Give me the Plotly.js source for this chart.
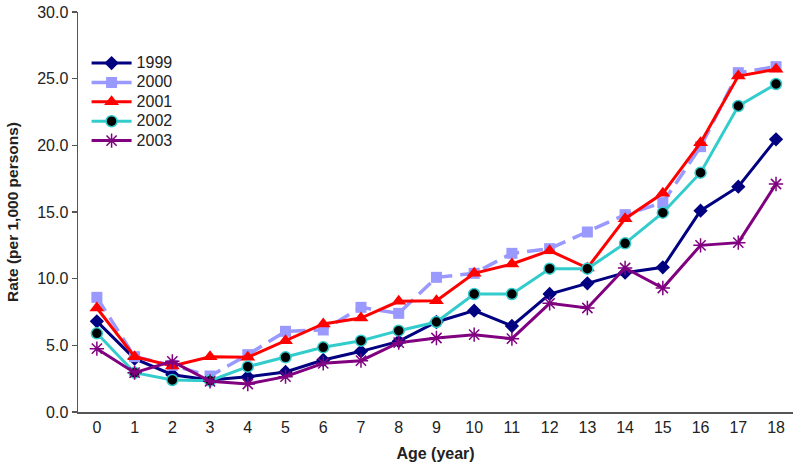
<!DOCTYPE html>
<html>
<head>
<meta charset="utf-8">
<script src="https://cdn.plot.ly/plotly-3.0.1.min.js"></script>
<style>html,body{margin:0;padding:0;background:#fff;}#chart{width:800px;height:468px;}</style>
</head>
<body>
<div id="chart"></div>
<script>
const ages = [0,1,2,3,4,5,6,7,8,9,10,11,12,13,14,15,16,17,18];
const y1999 = [6.8,4.0,2.8,2.4,2.65,3.0,3.9,4.55,5.3,6.75,7.6,6.45,8.85,9.65,10.45,10.85,15.1,16.9,20.45];
const y2000 = [8.6,4.15,3.5,2.7,4.3,6.05,6.15,7.85,7.4,10.1,10.4,11.9,12.25,13.5,14.8,15.7,19.9,25.45,25.9];
const y2001 = [7.8,4.15,3.45,4.15,4.1,5.35,6.6,7.05,8.3,8.35,10.4,11.1,12.1,10.8,14.5,16.4,20.2,25.2,25.7];
const y2002 = [5.9,2.95,2.4,2.35,3.4,4.1,4.85,5.35,6.1,6.75,8.85,8.85,10.75,10.75,12.65,14.95,17.95,22.95,24.6];
const y2003 = [4.75,2.95,3.8,2.3,2.1,2.65,3.65,3.85,5.2,5.55,5.8,5.5,8.15,7.8,10.8,9.3,12.5,12.7,17.1];
const seriesNames = ['1999','2000','2001','2002','2003'];

const legendLabel = s => '<span style="font-size:16px">' + s + '</span>';

const traces = [
  {x: ages, y: y1999, name: legendLabel(seriesNames[0]), mode: 'lines+markers',
   line: {color: '#000080', width: 3},
   marker: {symbol: 'diamond', size: 11, color: '#000080'}},
  {x: ages, y: y2000, name: legendLabel(seriesNames[1]), mode: 'lines+markers',
   line: {color: '#9999FF', width: 3.5, dash: '16px,8px'},
   marker: {symbol: 'square', size: 11, color: '#9999FF'}},
  {x: ages, y: y2001, name: legendLabel(seriesNames[2]), mode: 'lines+markers',
   line: {color: '#FF0000', width: 3},
   marker: {symbol: 'triangle-up', size: 13, color: '#FF0000'}},
  {x: ages, y: y2002, name: legendLabel(seriesNames[3]), mode: 'lines+markers',
   line: {color: '#33CCCC', width: 3},
   marker: {symbol: 'circle', size: 11, color: '#000000', line: {color: '#33CCCC', width: 1.5}}},
  {x: ages, y: y2003, name: legendLabel(seriesNames[4]), mode: 'lines+markers',
   line: {color: '#800080', width: 3},
   marker: {symbol: 'asterisk-open', size: 12, color: '#800080', line: {color: '#800080', width: 1.5}}}
];

const layout = {
  width: 800, height: 468,
  margin: {l: 78, r: 7, t: 12, b: 56},
  paper_bgcolor: '#fff', plot_bgcolor: '#fff',
  font: {family: 'Liberation Sans, Arial, sans-serif', size: 16, color: '#222'},
  showlegend: true,
  legend: {x: 0.012, y: 0.909, xanchor: 'left', yanchor: 'top', bgcolor: 'rgba(0,0,0,0)',
           font: {size: 12.6, color: '#222'}, itemwidth: 40, tracegroupgap: 0},
  xaxis: {range: [-0.5, 18.45], tickmode: 'array', tickvals: ages, ticktext: ages.map(String),
          showline: true, linecolor: '#555', linewidth: 1.5, showgrid: false, zeroline: false,
          ticks: '', tickfont: {size: 16, color: '#222'},
          title: {text: '<b>Age (year)</b>', font: {size: 16, color: '#222'}, standoff: 13}},
  yaxis: {range: [0, 30], dtick: 5, tickformat: '.1f',
          showline: true, linecolor: '#555', linewidth: 1.5, showgrid: false, zeroline: false,
          ticks: 'outside', ticklen: 5, tickcolor: '#555', tickwidth: 1.5,
          tickfont: {size: 16, color: '#222'},
          title: {text: '<b>Rate (per 1,000 persons)</b>', font: {size: 15.5, color: '#222'}, standoff: 14}},
  hovermode: false
};

Plotly.newPlot('chart', traces, layout, {displayModeBar: false, staticPlot: true});
</script>
</body>
</html>
